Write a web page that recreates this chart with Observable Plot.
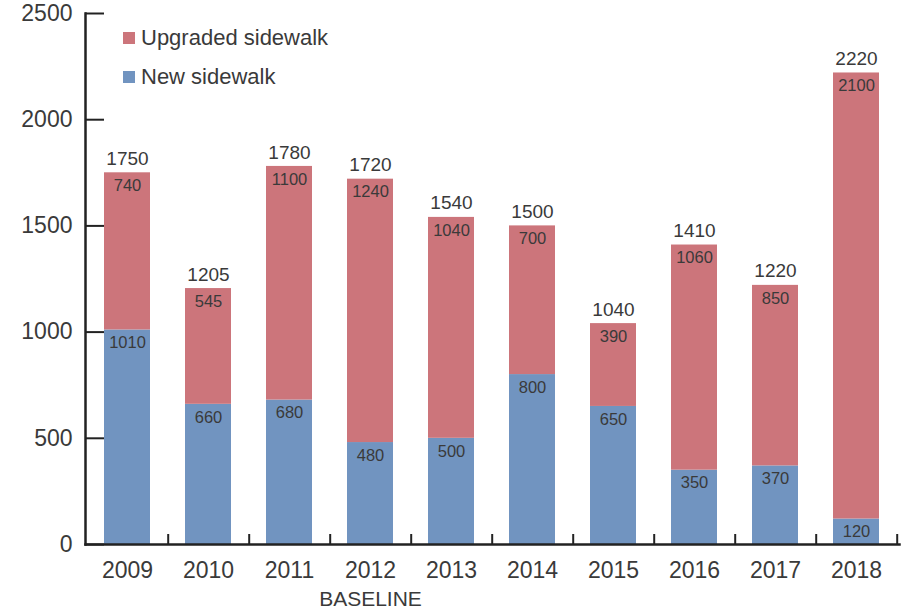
<!DOCTYPE html>
<html>
<head>
<meta charset="utf-8">
<script src="https://cdn.jsdelivr.net/npm/d3@7"></script>
<script src="https://cdn.jsdelivr.net/npm/@observablehq/plot@0.6"></script>
<style>
  html, body { margin: 0; padding: 0; background: #fff; }
  #wrap { position: relative; width: 904px; height: 610px; font-family: "Liberation Sans", Arial, sans-serif; }
  #legend { position: absolute; left: 123px; top: 18px; color: #3a3a3a; font-size: 22px; }
  #legend .row { display: flex; align-items: center; height: 39px; }
  #legend .sw { width: 12px; height: 12px; margin-right: 6px; }
</style>
</head>
<body>
<div id="wrap">
  <div id="chart"></div>
  <div id="legend"></div>
</div>
<script>
const years = ["2009","2010","2011","2012","2013","2014","2015","2016","2017","2018"];
const newSidewalk = [1010, 660, 680, 480, 500, 800, 650, 350, 370, 120];
const upgradedSidewalk = [740, 545, 1100, 1240, 1040, 700, 390, 1060, 850, 2100];
const totals = [1750, 1205, 1780, 1720, 1540, 1500, 1040, 1410, 1220, 2220];
const yTicks = [0, 500, 1000, 1500, 2000, 2500];
const seriesNames = ["Upgraded sidewalk", "New sidewalk"];
const seriesColors = ["#cc757b", "#7194c0"];
const baselineYear = "2012";
const baselineText = "BASELINE";

const rows = [];
years.forEach((y, i) => rows.push({year: y, type: "New sidewalk", value: newSidewalk[i]}));
years.forEach((y, i) => rows.push({year: y, type: "Upgraded sidewalk", value: upgradedSidewalk[i]}));
const totalRows = years.map((y, i) => ({year: y, total: totals[i]}));

const W = 904, H = 610;
const mL = 85, mR = 5, mT = 13, mB = 66;
const plotW = W - mL - mR, plotH = H - mT - mB;
const step = plotW / years.length;
const ink = "#3a3a3a";

const chart = Plot.plot({
  width: W, height: H,
  marginLeft: mL, marginRight: mR, marginTop: mT, marginBottom: mB,
  style: {fontFamily: "Liberation Sans, Arial, sans-serif", color: ink, background: "#fff"},
  x: {domain: years, paddingInner: 0.43, paddingOuter: 0.215, label: null},
  y: {domain: [0, 2500], label: null},
  color: {domain: seriesNames, range: seriesColors},
  marks: [
    Plot.barY(rows, {x: "year", y: "value", fill: "type"}),
    Plot.text(rows, Plot.stackY2({x: "year", y: "value", text: d => String(d.value), dy: 13, fontSize: 16.5, fill: ink})),
    Plot.text(totalRows, {x: "year", y: "total", text: d => String(d.total), dy: -14, fontSize: 19, fill: ink}),
    Plot.ruleY(yTicks, {y: d => d, insetRight: plotW - 19, stroke: "#222", strokeWidth: 2}),
    Plot.ruleX(years, {x: d => d, dx: step / 2, insetTop: plotH - 10, stroke: "#222", strokeWidth: 2}),
    Plot.frame({anchor: "left", stroke: "#222", strokeWidth: 2.5}),
    Plot.frame({anchor: "bottom", stroke: "#222", strokeWidth: 2.5}),
    Plot.axisY(yTicks, {tickSize: 0, tickPadding: 13, fontSize: 23, fill: ink, tickFormat: d => String(d), label: null}),
    Plot.axisX({tickSize: 0, tickPadding: 17, fontSize: 23, fill: ink, label: null}),
    Plot.text([{year: baselineYear, t: baselineText}], {x: "year", frameAnchor: "bottom", text: "t", dy: 61, fontSize: 21, fill: ink})
  ]
});
document.getElementById("chart").appendChild(chart);

const legend = document.getElementById("legend");
seriesNames.forEach((n, i) => {
  const r = document.createElement("div"); r.className = "row";
  const s = document.createElement("div"); s.className = "sw"; s.style.background = seriesColors[i];
  const t = document.createElement("span"); t.textContent = n;
  r.appendChild(s); r.appendChild(t); legend.appendChild(r);
});
</script>
</body>
</html>
